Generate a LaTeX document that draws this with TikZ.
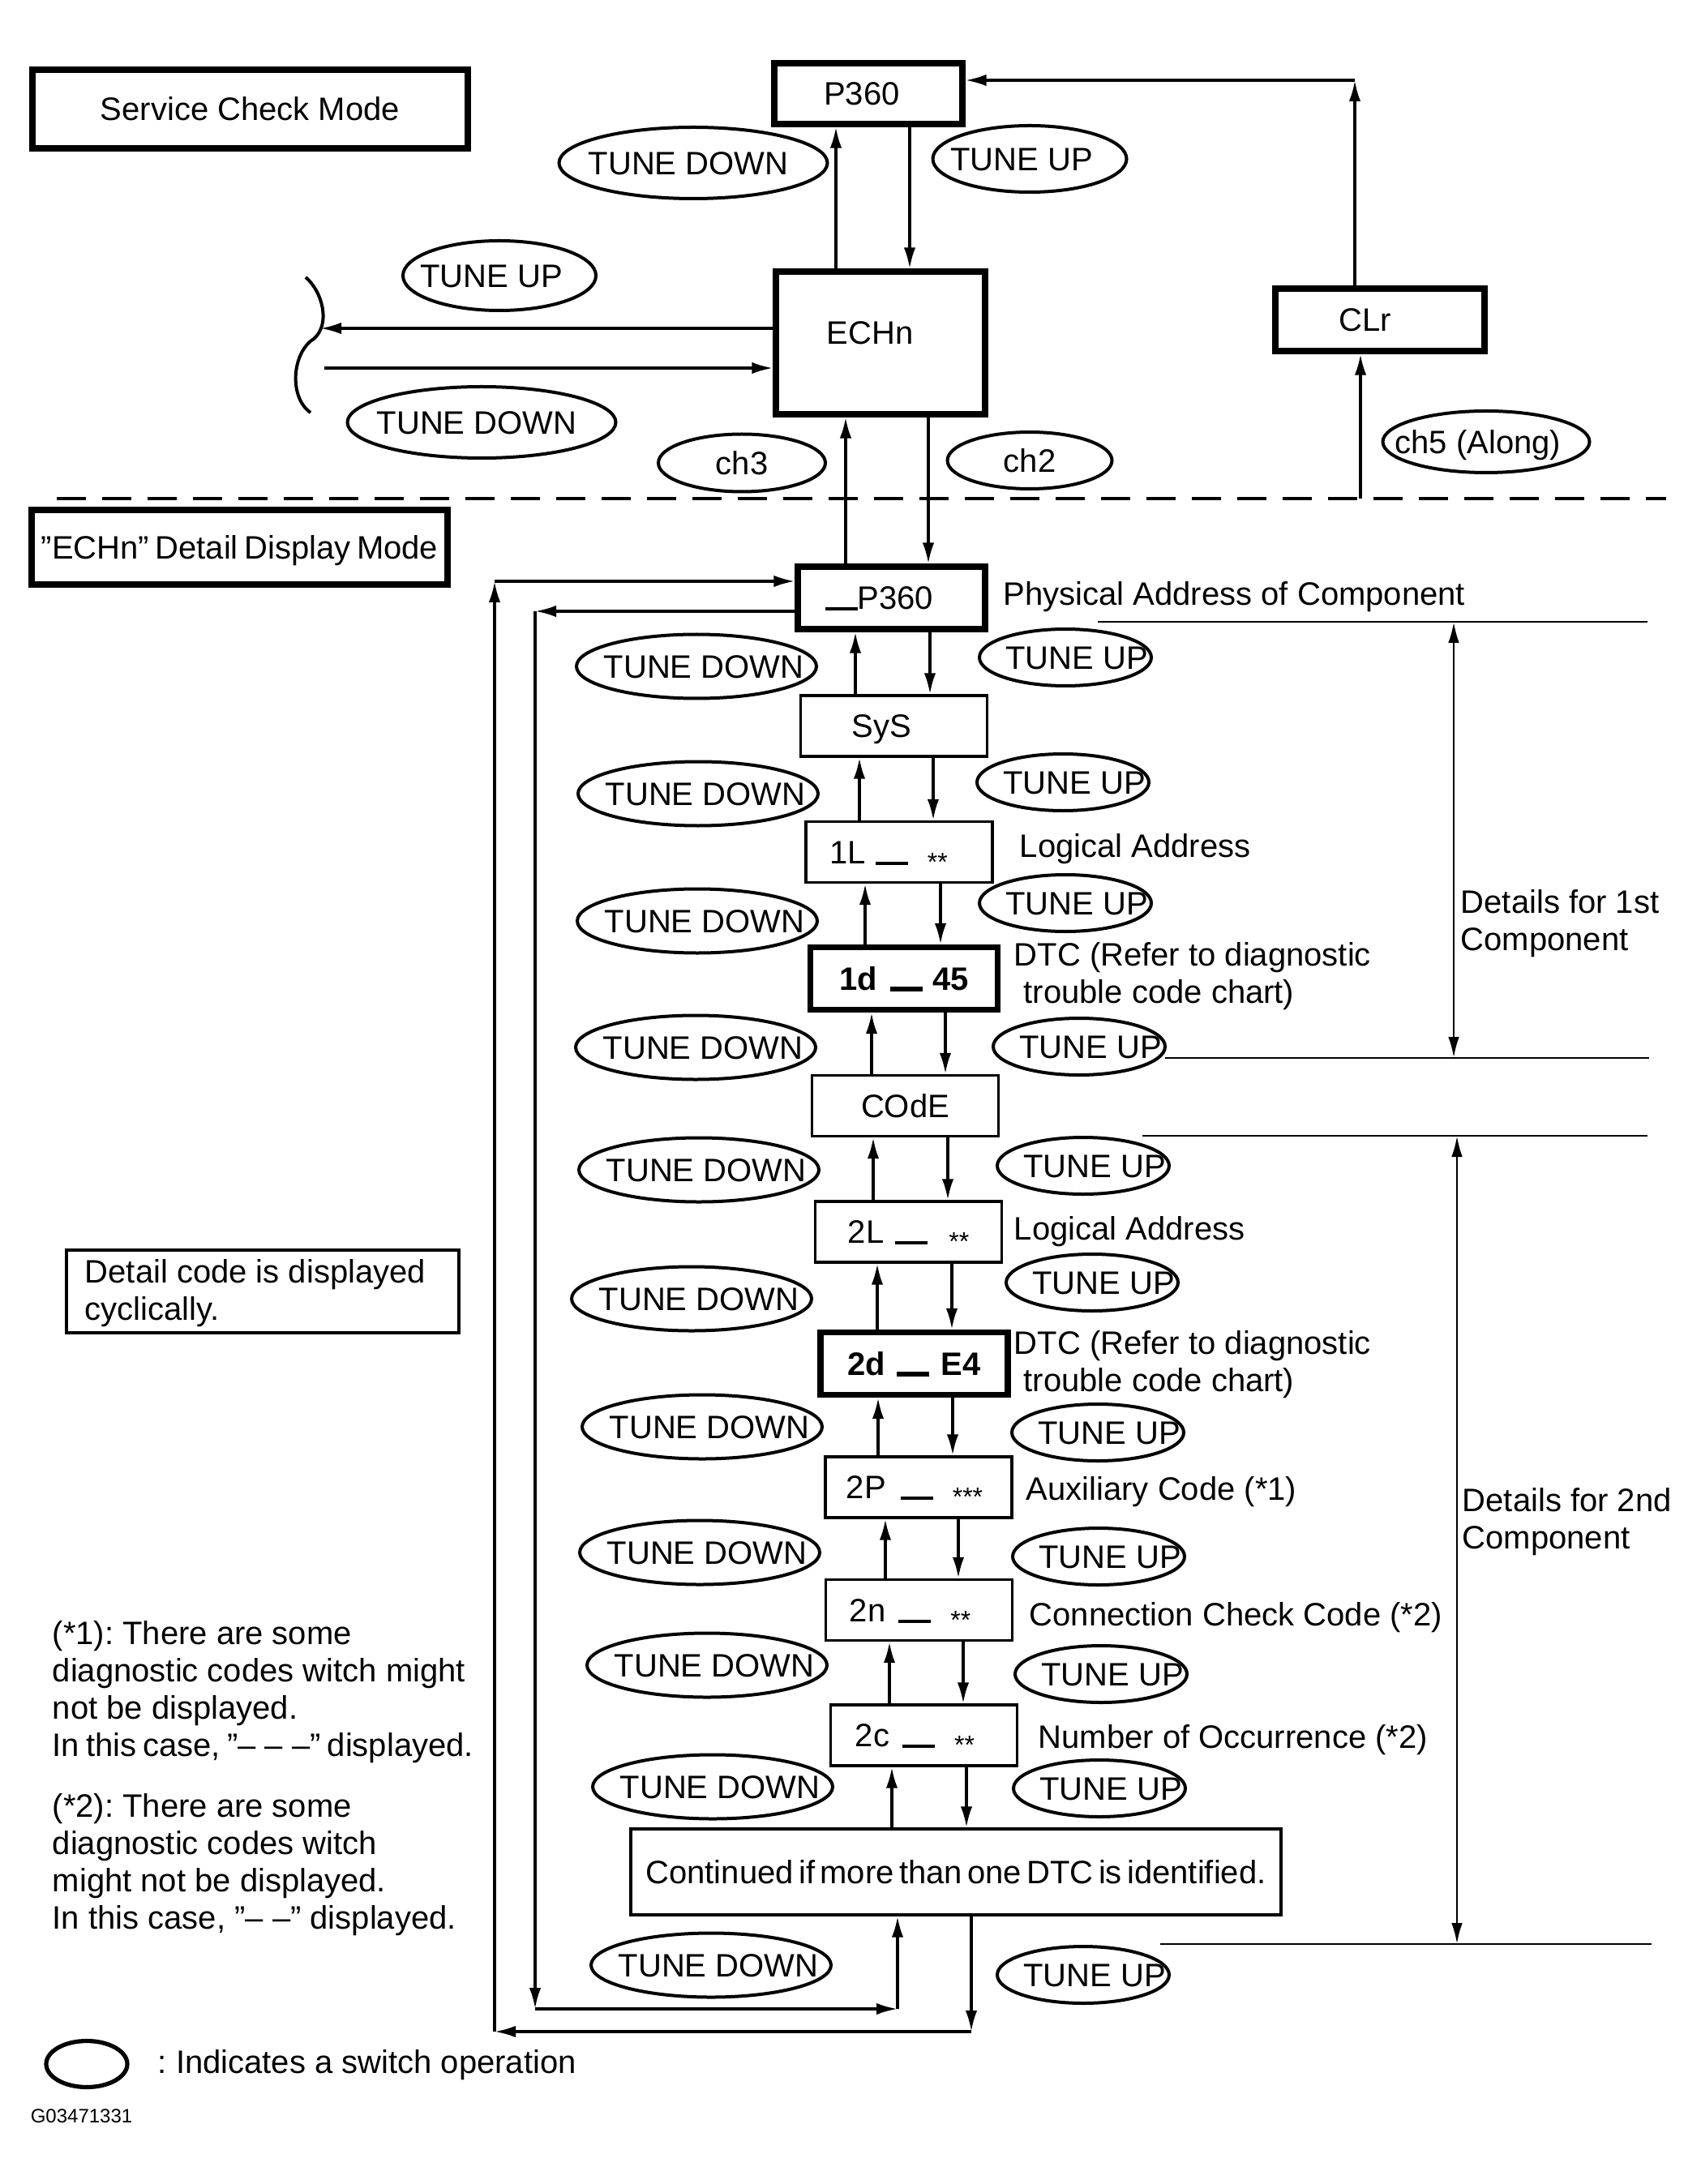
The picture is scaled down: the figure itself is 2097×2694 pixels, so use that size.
\documentclass[tikz,border=0pt]{standalone}
\usepackage{fontspec}
\setmainfont{Liberation Sans}
\usetikzlibrary{arrows.meta,shapes.geometric}
\newcommand\swt[2]{\makebox[0pt]{\hspace*{#1}#2}}
\newcommand\uline{\rule[-0.3pt]{10pt}{1pt}}
\newcommand\ulineb{\rule[-0.4pt]{10pt}{1.6pt}}
\newcommand\stars[1]{\raisebox{-2.2pt}{\fontsize{8}{8}\selectfont #1}}
\frenchspacing
\begin{document}
\begin{tikzpicture}[x=0.25pt,y=-0.25pt,
  font=\fontsize{10}{11.5}\selectfont,
  lbl/.style={inner sep=0pt, text height=7.2pt, text depth=0pt, anchor=west},
  mlbl/.style={inner sep=0pt, align=left, anchor=north west},
  box/.style={draw, line width=0.85pt, inner sep=0pt, text height=7.2pt, text depth=0pt},
  tbox/.style={box, line width=1.8pt},
  sw/.style={draw, ellipse, line width=1pt, inner sep=0pt, text height=7.2pt, text depth=0pt},
  swd/.style={sw, minimum width=74pt, minimum height=19.75pt},
  swu/.style={sw, minimum width=53pt, minimum height=17.5pt},
  colbox/.style={box, minimum width=57.5pt, minimum height=18.75pt},
  tcolbox/.style={tbox, minimum width=57.75pt, minimum height=19.25pt},
  arr/.style={line width=0.85pt, -{Latex[length=6.5pt,width=3.6pt]}},
  darr/.style={line width=0.7pt, {Latex[length=6.5pt,width=3.4pt]}-{Latex[length=6.5pt,width=3.4pt]}},
  thinline/.style={line width=0.7pt},
  dline/.style={line width=0.8pt, dash pattern=on 9pt off 5pt}]
\fill[white] (0,0) rectangle (2097,2694);
\useasboundingbox (0,0) rectangle (2097,2694);

% ---------- Service check mode ----------
\node[tbox, minimum width=134.25pt, minimum height=24.25pt] (scm) at (308.5,134.5) {Service Check Mode};
\node[tbox, minimum width=58pt, minimum height=18.75pt] (p360) at (1071,115.5) {\swt{-4pt}{P360}};
\node[tbox, minimum width=64.5pt, minimum height=44pt] (echn) at (1086,423) {\makebox[0pt]{\hspace*{-6.5pt}\raisebox{3.25pt}{ECHn}}};
\node[tbox, minimum width=64.5pt, minimum height=19.25pt] (clr) at (1702,394.5) {\swt{-9pt}{CLr}};

\node[sw, minimum width=82.75pt, minimum height=22pt] (tdA) at (855,201) {\swt{-3pt}{TUNE DOWN}};
\node[sw, minimum width=59.75pt, minimum height=20.5pt] (tuA) at (1270,196) {\swt{-5pt}{TUNE UP}};
\node[sw, minimum width=59.5pt, minimum height=21.5pt] (tuB) at (616,340) {\swt{-5pt}{TUNE UP}};
\node[sw, minimum width=82.75pt, minimum height=22pt] (tdB) at (594,521) {\swt{-3pt}{TUNE DOWN}};
\node[sw, minimum width=51.5pt, minimum height=17.75pt] (ch3) at (915,571) {\swt{0pt}{ch3}};
\node[sw, minimum width=50.75pt, minimum height=17.5pt] (ch2) at (1270,568) {\swt{0pt}{ch2}};
\node[sw, minimum width=63.75pt, minimum height=19pt] (ch5) at (1833,545) {\swt{-5pt}{ch5 (Along)}};

% bracket on the left
\draw[line width=1pt] (377,342) .. controls (398,360) and (408,400) .. (387,418)
                                .. controls (360,435) and (356,490) .. (383,509);
\coordinate (brA) at (395,405);
\coordinate (brB) at (400,454);
\draw[arr] (echn.west |- brA) -- (brA);
\draw[arr] (brB) -- (echn.west |- brB);

% P360 <-> ECHn
\draw[arr] (echn.north -| 1031,0) -- (p360.south -| 1031,0);
\draw[arr] (p360.south -| 1122,0) -- (echn.north -| 1122,0);

% CLr -> P360
\coordinate (kc) at (1671,99);
\draw[arr] (clr.north -| kc) -- (kc);
\draw[arr] (kc) -- (p360.east |- kc);

% dashed separator
\coordinate (dl1) at (70,615);
\coordinate (dl2) at (2055,615);
\draw[dline] (dl1) -- (dl2);
\coordinate (d5) at (1678,615);
\draw[arr] (d5) -- (clr.south -| d5);

% ---------- ECHn detail display mode ----------
\node[tbox, minimum width=128.25pt, minimum height=23pt] (ddm) at (295.5,675) {\spaceskip=1.9pt ”ECHn” Detail Display Mode};

\node[tcolbox] (p360d) at (1099.5,737.5) {\swt{-7.5pt}{\uline P360}};
\node[colbox] (sys) at (1102.5,895.5) {\swt{-7.5pt}{SyS}};
\node[colbox] (l1) at (1109,1051) {\swt{-6.5pt}{1L\hspace{3pt}\uline\hspace{6pt}\stars{**}}};
\node[tcolbox] (d1) at (1115,1207) {\swt{0pt}{\bfseries 1d\hspace{4pt}\ulineb\hspace{3pt}45}};
\node[colbox] (code) at (1116.5,1364) {COdE};
\node[colbox] (l2) at (1120.5,1519.5) {\swt{0pt}{2L\hspace{3.5pt}\uline\hspace{6.5pt}\stars{**}}};
\node[tcolbox] (d2) at (1127.5,1682) {\swt{0pt}{\bfseries 2d\hspace{3.5pt}\ulineb\hspace{3.5pt}E4}};
\node[colbox] (p2) at (1133,1834.5) {\swt{-2.5pt}{2P\hspace{4.5pt}\uline\hspace{6pt}\stars{***}}};
\node[colbox] (n2) at (1133.5,1986) {\swt{-5.5pt}{2n\hspace{4pt}\uline\hspace{6pt}\stars{**}}};
\node[colbox] (c2) at (1139.5,2140.5) {\swt{-5.5pt}{2c\hspace{4pt}\uline\hspace{6pt}\stars{**}}};
\node[box, minimum width=200.5pt, minimum height=26.5pt] (cont) at (1179,2309) {\spaceskip=1.6pt Continued if more than one DTC is identified.};

% ECHn <-> detail
\draw[arr] (echn.south -| 1145,0) -- (p360d.north -| 1145,0);
\draw[arr] (p360d.north -| 1043,0) -- (echn.south -| 1043,0);

% column arrows
\foreach \a/\b/\u/\d in {p360d/sys/1055/1147, sys/l1/1060/1151, l1/d1/1067/1160,
    d1/code/1075/1166, code/l2/1077/1169, l2/d2/1082/1174, d2/p2/1083/1175,
    p2/n2/1092/1182, n2/c2/1097/1188, c2/cont/1100/1192}{
  \draw[arr] (\b.north -| \u,0) -- (\a.south -| \u,0);
  \draw[arr] (\a.south -| \d,0) -- (\b.north -| \d,0);
}

% switch ellipses of the column
\foreach \n/\x/\y in {1/859/822, 2/861/979, 3/860/1136, 4/858/1292, 5/862/1443,
    6/853/1602, 7/866/1760, 8/863/1915, 9/872/2054, 10/879/2204, 11/877/2424}{
  \node[swd] (td\n) at (\x,\y) {\swt{4.5pt}{TUNE DOWN}};
}
\foreach \n/\x/\y in {1/1314/811, 2/1311/965, 3/1314/1114, 4/1331/1291, 5/1336/1438,
    6/1347/1582, 7/1354/1767, 8/1355/1920, 9/1358/2065, 10/1356/2206, 11/1336/2436}{
  \node[swu] (tu\n) at (\x,\y) {\swt{7pt}{TUNE UP}};
}

% cyclic loops
\coordinate (ia) at (660,754);
\coordinate (ib) at (660,2478);
\coordinate (ic) at (1107,2478);
\draw[arr] (p360d.west |- ia) -- (ia);
\draw[arr] (ia) -- (ib);
\draw[arr] (ib) -- (ic);
\draw[arr] (ic) -- (cont.south -| ic);
\coordinate (oa) at (1198,2506);
\coordinate (ob) at (610,2506);
\coordinate (oc) at (610,717);
\draw[arr] (cont.south -| oa) -- (oa);
\draw[arr] (oa) -- (ob);
\draw[arr] (ob) -- (oc);
\draw[arr] (oc) -- (p360d.west |- oc);

% labels on the right
\node[lbl] (physl) at (1237,732) {Physical Address of Component};
\node[lbl] (log1) at (1257,1043) {Logical Address};
\node[mlbl] (dtc1) at (1250,1162) {DTC (Refer to diagnostic\\\hspace*{3pt}trouble code chart)};
\node[lbl] (log2) at (1250,1515) {Logical Address};
\node[mlbl] (dtc2) at (1250,1641) {DTC (Refer to diagnostic\\\hspace*{3pt}trouble code chart)};
\node[lbl] (aux) at (1265,1836) {Auxiliary Code (*1)};
\node[lbl] (conn) at (1269,1991) {Connection Check Code (*2)};
\node[lbl] (occ) at (1280,2142) {Number of Occurrence (*2)};
\node[mlbl] (det1) at (1801,1097) {Details for 1st\\Component};
\node[mlbl] (det2) at (1803,1835) {Details for 2nd\\Component};

% component brackets
\coordinate (b1t) at (1793,767);
\coordinate (b1b) at (1793,1305);
\draw[thinline] (1354,767) -- (2032,767);
\draw[thinline] (1437,1305) -- (2034,1305);
\draw[darr] (b1t) -- (b1b);
\coordinate (b2t) at (1797,1401);
\coordinate (b2b) at (1797,2398);
\draw[thinline] (1409,1401) -- (2032,1401);
\draw[thinline] (1431,2398) -- (2037,2398);
\draw[darr] (b2t) -- (b2b);

% left notes
\node[box, minimum width=121pt, minimum height=25.5pt] (cyc) at (324,1593) {};
\node[mlbl] (cyct) at (104,1553) {Detail code is displayed\\cyclically.};
\node[mlbl] (fn1) at (64,1999) {(*1): There are some\\diagnostic codes witch might\\not be displayed.\\{\spaceskip=2pt In this case, ”–\hspace{2.8pt}–\hspace{2.8pt}–” displayed.}};
\node[mlbl] (fn2) at (64,2212) {(*2): There are some\\diagnostic codes witch\\might not be displayed.\\In this case, ”– –” displayed.};

% legend
\node[draw, ellipse, line width=1.3pt, minimum width=25pt, minimum height=14.25pt, inner sep=0pt] (leg) at (107,2546) {};
\node[lbl] (legt) at (194,2543) {: Indicates a switch operation};
\node[lbl, font=\fontsize{6}{7}\selectfont, text height=4.3pt] (gid) at (37,2610) {G03471331};
\end{tikzpicture}
\end{document}
